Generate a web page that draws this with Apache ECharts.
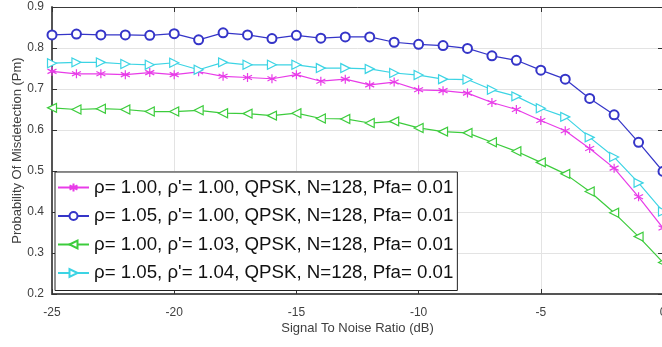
<!DOCTYPE html>
<html><head><meta charset="utf-8">
<script src="https://cdn.jsdelivr.net/npm/echarts@6/dist/echarts.min.js"></script>
<style>html,body{margin:0;padding:0;background:#fff}#c{width:662px;height:347px}</style>
</head><body><div id="c"></div>
<script>
const snr = [-25,-24,-23,-22,-21,-20,-19,-18,-17,-16,-15,-14,-13,-12,-11,-10,-9,-8,-7,-6,-5,-4,-3,-2,-1,0];
const pmMagenta = [0.743,0.737,0.737,0.735,0.740,0.735,0.742,0.731,0.728,0.725,0.735,0.719,0.724,0.710,0.717,0.698,0.696,0.690,0.667,0.650,0.623,0.598,0.555,0.507,0.437,0.361];
const pmBlue = [0.832,0.834,0.832,0.832,0.831,0.835,0.820,0.837,0.832,0.823,0.831,0.824,0.827,0.827,0.814,0.809,0.806,0.799,0.781,0.770,0.746,0.724,0.677,0.637,0.570,0.499];
const pmGreen = [0.654,0.650,0.652,0.650,0.645,0.645,0.648,0.641,0.640,0.635,0.641,0.628,0.627,0.617,0.621,0.605,0.596,0.593,0.570,0.548,0.521,0.493,0.450,0.398,0.340,0.277];
const pmCyan = [0.763,0.765,0.765,0.761,0.759,0.764,0.747,0.765,0.759,0.759,0.759,0.751,0.751,0.749,0.739,0.734,0.724,0.723,0.698,0.682,0.653,0.632,0.582,0.534,0.471,0.401];
const names = [
  "ρ= 1.00, ρ'= 1.00, QPSK, N=128, Pfa= 0.01",
  "ρ= 1.05, ρ'= 1.00, QPSK, N=128, Pfa= 0.01",
  "ρ= 1.00, ρ'= 1.03, QPSK, N=128, Pfa= 0.01",
  "ρ= 1.05, ρ'= 1.04, QPSK, N=128, Pfa= 0.01"
];
const xTicks = [-25,-20,-15,-10,-5,0];
const yTicks = [0.2,0.3,0.4,0.5,0.6,0.7,0.8,0.9];

const FONT = 'Liberation Sans, Arial, sans-serif';
const asterisk = 'path://M10,0L10,20M1.5,5L18.5,15M18.5,5L1.5,15';
const triLeft = 'path://M0,10L18,0L18,20Z';
const triRight = 'path://M18,10L0,0L0,20Z';

function mk(name, data, color, symbol, hollow) {
  return {
    name: name, type: 'line',
    data: snr.map((x, i) => [x, data[i]]),
    symbol: symbol, symbolSize: 9,
    showSymbol: true,
    lineStyle: {color: color, width: 1.2},
    itemStyle: {color: hollow ? '#ffffff' : color, borderColor: color, borderWidth: 1.2},
    emphasis: {disabled: true},
    clip: false, animation: false
  };
}

const chart = echarts.init(document.getElementById('c'), null, {renderer: 'canvas'});
const axisLineStyle = {color: '#3a3a3a', width: 1};
chart.setOption({
  animation: false,
  backgroundColor: '#ffffff',
  textStyle: {fontFamily: FONT},
  grid: {left: 52, top: 7, width: 611, height: 287, containLabel: false, outerBoundsMode: 'none'},
  legend: {
    orient: 'vertical', left: 55, top: 172,
    backgroundColor: '#ffffff', borderColor: '#222', borderWidth: 1,
    padding: [6, 4, 8, 2], itemGap: 9.5, itemWidth: 31, itemHeight: 10,
    textStyle: {fontFamily: FONT, fontSize: 18.7, color: '#111', lineHeight: 19},
    selectedMode: false
  },
  xAxis: [{
    type: 'value', min: -25, max: 0, interval: 5,
    name: 'Signal To Noise Ratio (dB)', nameLocation: 'middle', nameGap: 28, nameMoveOverlap: false,
    nameTextStyle: {fontSize: 13, color: '#404040', fontFamily: FONT},
    axisLine: {show: true, onZero: false, lineStyle: {color: '#555', width: 2}},
    axisTick: {show: true, inside: true, length: 5, lineStyle: {color: '#333'}},
    axisLabel: {fontSize: 12, color: '#404040', margin: 13, fontFamily: FONT},
    splitLine: {show: true, lineStyle: {color: '#e3e3e3', width: 1}}
  }, {
    type: 'value', min: -25, max: 0, interval: 5, position: 'top',
    axisLine: {show: true, onZero: false, lineStyle: axisLineStyle},
    axisTick: {show: true, inside: true, length: 5, lineStyle: {color: '#333'}},
    axisLabel: {show: false}, splitLine: {show: false}
  }],
  yAxis: [{
    type: 'value', min: 0.2, max: 0.9, interval: 0.1,
    name: 'Probability Of Misdetection (Pm)', nameLocation: 'middle', nameGap: 28, nameMoveOverlap: false,
    nameTextStyle: {fontSize: 13, color: '#404040', fontFamily: FONT},
    axisLine: {show: true, onZero: false, lineStyle: {color: '#555', width: 2}},
    axisTick: {show: true, inside: true, length: 5, lineStyle: {color: '#333'}},
    axisLabel: {fontSize: 12, color: '#404040', margin: 8, fontFamily: FONT, formatter: v => v.toFixed(1)},
    splitLine: {show: true, lineStyle: {color: '#e3e3e3', width: 1}}
  }, {
    type: 'value', min: 0.2, max: 0.9, interval: 0.1, position: 'right',
    axisLine: {show: true, onZero: false, lineStyle: axisLineStyle},
    axisTick: {show: true, inside: true, length: 5, lineStyle: {color: '#333'}},
    axisLabel: {show: false}, splitLine: {show: false}
  }],
  series: [
    mk(names[0], pmMagenta, '#e83ce8', asterisk, false),
    mk(names[1], pmBlue, '#3535c8', 'emptyCircle', false),
    mk(names[2], pmGreen, '#3ccc3c', triLeft, true),
    mk(names[3], pmCyan, '#3cd4e4', triRight, true)
  ]
});
</script></body></html>
